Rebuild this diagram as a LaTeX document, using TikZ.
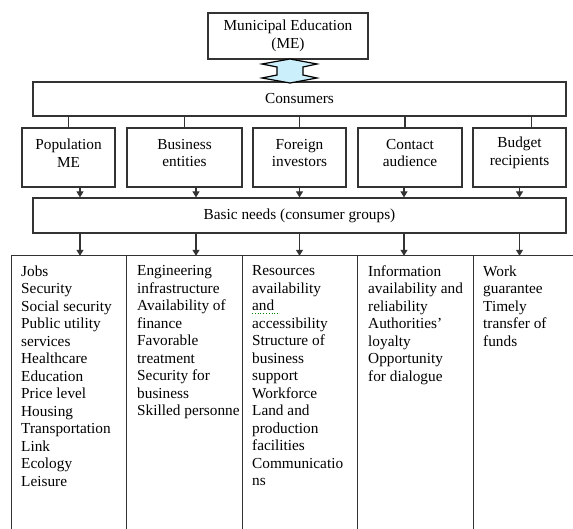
\documentclass[tikz,border=0pt]{standalone}
\usepackage{fontspec}
\setmainfont{Liberation Serif}
\usetikzlibrary{arrows.meta}
\begin{document}
\begin{tikzpicture}[x=1pt,y=-1pt,
  box/.style={draw=black!80, line width=1.2pt, inner sep=0pt, align=center, font=\fontsize{15.3}{17.5}\selectfont},
  lbl/.style={align=center, inner sep=0pt, font=\fontsize{15.3}{17.5}\selectfont},
  ln/.style={draw=black!80, line width=1.2pt},
  arr/.style={ln, -{Triangle[length=6pt,width=7pt]}},
  colbox/.style={inner sep=0pt, minimum height=273pt},
  coltext/.style={align=left, anchor=north west, inner sep=0pt, font=\fontsize{15.3}{17.5}\selectfont},
]
\useasboundingbox (0,0) rectangle (573,529);

% top box
\node[box, minimum width=160pt, minimum height=46pt] (me) at (288,36) {Municipal Education\\(ME)};
\node[box, minimum width=533pt, minimum height=34pt] (cons) at (299.5,99) {Consumers};

% double arrow
\filldraw[fill=cyan!20, draw=black, line width=1.2pt, line join=miter]
  (290,59) -- (317,64) -- (303,67) -- (303,75) -- (317,78) -- (290,83)
  -- (262,78) -- (277,75) -- (277,67) -- (262,64) -- cycle;

% categories
\node[box, minimum width=93pt, minimum height=59pt] (pop) at (68.5,157.5) {};
\node[box, minimum width=115pt, minimum height=59pt] (bus) at (184.5,157.5) {};
\node[box, minimum width=93pt, minimum height=59pt] (inv) at (299.5,157.5) {};
\node[box, minimum width=104pt, minimum height=59pt] (con) at (410,157.5) {};
\node[box, minimum width=93pt, minimum height=59pt] (bud) at (519.5,157.5) {};
\node[lbl] (popt) at (68.5,153) {Population\\ME};
\node[lbl] (bust) at (184.5,153) {Business\\entities};
\node[lbl] (invt) at (299.5,153) {Foreign\\investors};
\node[lbl] (cont) at (410,153) {Contact\\audience};
\node[lbl] (budt) at (519.5,153) {Budget\\recipients};

\node[box, minimum width=533pt, minimum height=35pt] (bn) at (299.5,215.5) {Basic needs (consumer groups)};

% consumers -> categories
\draw[ln] (cons.south -| pop.north) -- (pop.north);
\draw[ln] (cons.south -| bus.north) -- (bus.north);
\draw[ln] (cons.south -| inv.north) -- (inv.north);
\draw[ln] ([xshift=-5pt]con.north |- cons.south) -- ([xshift=-5pt]con.north);
\draw[ln] ([xshift=12pt]bud.north |- cons.south) -- ([xshift=12pt]bud.north);

% categories -> basic needs
\draw[arr] ([xshift=11.5pt]pop.south) -- ([xshift=11.5pt]pop.south |- bn.north);
\draw[arr] ([xshift=11.5pt]bus.south) -- ([xshift=11.5pt]bus.south |- bn.north);
\draw[arr] (inv.south) -- (inv.south |- bn.north);
\draw[arr] ([xshift=-6pt]con.south) -- ([xshift=-6pt]con.south |- bn.north);
\draw[arr] (bud.south) -- (bud.south |- bn.north);

% columns
\node[colbox, minimum width=115pt] (col1) at (69.5,392.5) {};
\node[colbox, minimum width=116pt] (col2) at (185,392.5) {};
\node[colbox, minimum width=115pt] (col3) at (300.5,392.5) {};
\node[colbox, minimum width=116pt] (col4) at (416,392.5) {};
\node[colbox, minimum width=99pt] (col5) at (523.5,392.5) {};
\draw[ln] (col1.south west) -- (col1.north west) -- (col5.north east);
\draw[ln] (col2.north west) -- (col2.south west);
\draw[ln] (col3.north west) -- (col3.south west);
\draw[ln] (col4.north west) -- (col4.south west);
\draw[ln] (col5.north west) -- (col5.south west);

% basic needs -> columns
\draw[arr] ([xshift=11.5pt]pop.south |- bn.south) -- ([xshift=11.5pt]pop.south |- col1.north);
\draw[arr] ([xshift=11.5pt]bus.south |- bn.south) -- ([xshift=11.5pt]bus.south |- col2.north);
\draw[arr] (bn.south -| inv.south) -- (col3.north -| inv.south);
\draw[arr] ([xshift=-6pt]con.south |- bn.south) -- ([xshift=-6pt]con.south |- col4.north);
\draw[arr] (bn.south -| bud.south) -- (col5.north -| bud.south);

% column texts
\node[coltext] (t1) at (21,265.5) {Jobs\\Security\\Social security\\Public utility\\services\\Healthcare\\Education\\Price level\\Housing\\Transportation\\Link\\Ecology\\Leisure};
\node[coltext] (t2) at (137,265.5) {Engineering\\infrastructure\\Availability of\\finance\\Favorable\\treatment\\Security for\\business\\Skilled personne};
\node[coltext] (t3) at (252,265.5) {Resources\\availability\\and\\accessibility\\Structure of\\business\\support\\Workforce\\Land and\\production\\facilities\\Communicatio\\ns};
\node[coltext] (t4) at (368,265.5) {Information\\availability and\\reliability\\Authorities'\\loyalty\\Opportunity\\for dialogue};
\node[coltext] (t5) at (483,265.5) {Work\\guarantee\\Timely\\transfer of\\funds};

% spell-check squiggle
\draw[green!50!black, line width=0.8pt, dotted] (252,313.5) -- (278,313.5);
\end{tikzpicture}
\end{document}
